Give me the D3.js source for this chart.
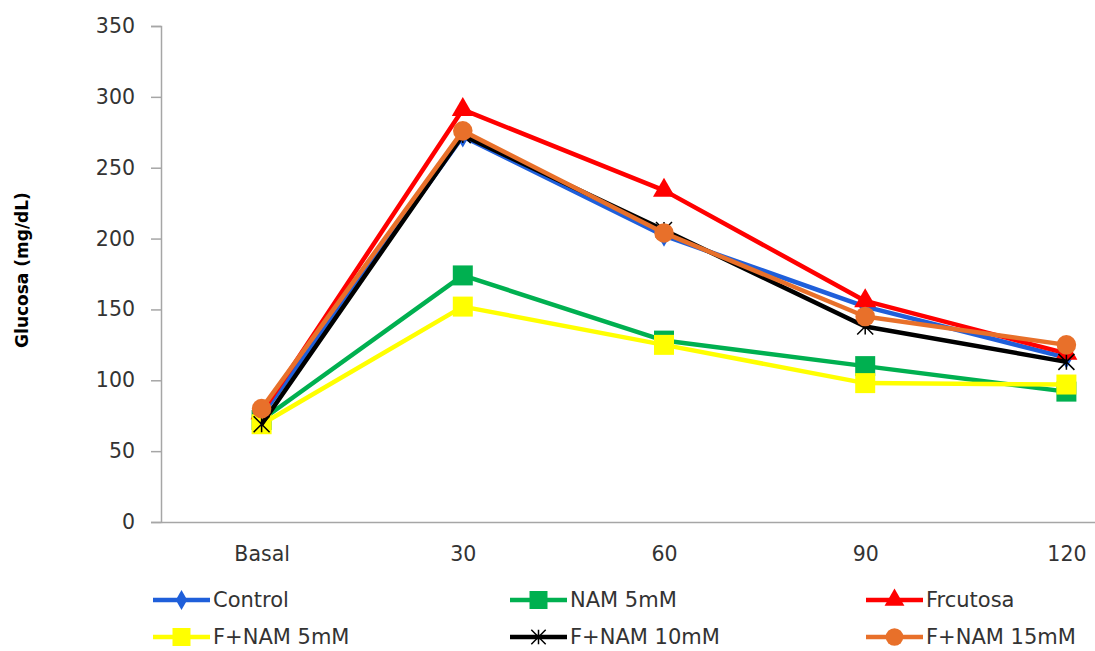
<!DOCTYPE html>
<html><head><meta charset="utf-8">
<script src="https://cdn.jsdelivr.net/npm/d3@7"></script>
<style>body{margin:0;background:#fff}svg{display:block}text{font-family:"DejaVu Sans",sans-serif}</style>
</head><body><svg id="c" width="1095" height="651"></svg>
<script>
const categories = ["Basal","30","60","90","120"];
const seriesNames = ["Control","NAM 5mM","Frcutosa","F+NAM 5mM","F+NAM 10mM","F+NAM 15mM"];
const control   = [75, 272, 202, 152, 116];
const nam5      = [72, 174, 128, 110, 92];
const frcutosa  = [77, 291, 234, 156, 119];
const fnam5     = [69, 152, 125, 98, 97];
const fnam10    = [69, 273, 206, 138, 113];
const fnam15    = [80, 276, 204, 145, 125];
const yTicks = [0,50,100,150,200,250,300,350];

const seriesValues = [control, nam5, frcutosa, fnam5, fnam10, fnam15];
const colors = ["#1F5FDA","#00B050","#FF0000","#FFFF00","#000000","#E8702A"];
const markers = ["diamond","square","triangle","square","star","circle"];

const svg = d3.select("#c");
svg.append("rect").attr("width",1095).attr("height",651).attr("fill","#fff");

const x = d3.scalePoint().domain(categories).range([161,1167]).padding(0.5);
const y = d3.scaleLinear().domain([0,350]).range([522,26]);

// y axis
const yAxis = svg.append("g").attr("transform","translate(161,0)")
  .call(d3.axisLeft(y).tickValues(yTicks).tickSize(10).tickPadding(16));
yAxis.select(".domain").attr("stroke","#a6a6a6").attr("stroke-width",1.5);
yAxis.selectAll(".tick line").attr("stroke","#a6a6a6").attr("stroke-width",1.5);
yAxis.selectAll(".tick text").attr("font-size",20.5).attr("fill","#333").attr("font-family","DejaVu Sans");

// x axis
const xAxis = svg.append("g").attr("transform","translate(0,522)")
  .call(d3.axisBottom(x).tickSize(0).tickPadding(24));
xAxis.select(".domain").attr("stroke","#a6a6a6").attr("stroke-width",1.5);
xAxis.selectAll(".tick text").attr("font-size",20.5).attr("fill","#333").attr("font-family","DejaVu Sans");

svg.append("text").attr("transform","translate(28,270) rotate(-90)")
  .attr("text-anchor","middle").attr("font-size",17).attr("font-weight","bold")
  .attr("fill","#000").text("Glucosa (mg/dL)");

function drawMarker(g, type, color, cx, cy, scale){
  scale = scale || 1;
  if(type==="star"){
    const r = 8*scale;
    g.append("path").attr("d",`M${cx},${cy-r}L${cx},${cy+r}M${cx-r},${cy-r}L${cx+r},${cy+r}M${cx-r},${cy+r}L${cx+r},${cy-r}`)
      .attr("stroke",color).attr("stroke-width",1.5).attr("fill","none");
    return;
  }
  const sym = {diamond:d3.symbolDiamond, square:d3.symbolSquare, triangle:d3.symbolTriangle, circle:d3.symbolCircle}[type];
  const size = {diamond:140, square:400, triangle:210, circle:300}[type]*scale*scale;
  g.append("path").attr("d", d3.symbol().type(sym).size(size)())
    .attr("transform",`translate(${cx},${cy})`).attr("fill",color);
}

const line = d3.line().x((d,i)=>x(categories[i])).y(d=>y(d));
seriesValues.forEach((vals,k)=>{
  const g = svg.append("g");
  g.append("path").datum(vals).attr("d",line).attr("fill","none")
    .attr("stroke",colors[k]).attr("stroke-width",4.5).attr("stroke-linejoin","round");
  vals.forEach((v,i)=>drawMarker(g, markers[k], colors[k], x(categories[i]), y(v)));
});

// legend
const legCols = [153, 510, 866];
const legRows = [600, 637];
seriesNames.forEach((name,k)=>{
  const lx = legCols[k%3], ly = legRows[Math.floor(k/3)];
  const g = svg.append("g");
  g.append("line").attr("x1",lx).attr("x2",lx+57).attr("y1",ly).attr("y2",ly)
    .attr("stroke",colors[k]).attr("stroke-width",4.5);
  drawMarker(g, markers[k], colors[k], lx+28.5, ly, 0.9);
  g.append("text").attr("x",lx+60).attr("y",ly).attr("dy","0.35em")
    .attr("font-size",21).attr("fill","#333").text(name);
});
</script></body></html>
